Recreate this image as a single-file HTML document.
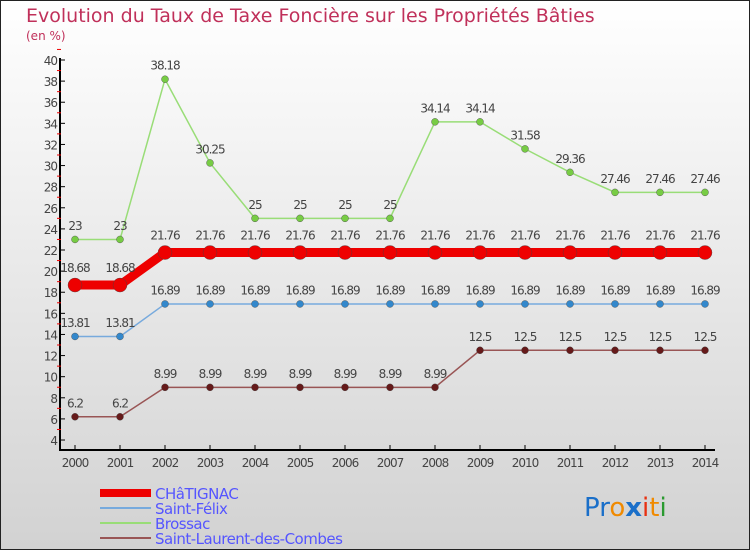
<!DOCTYPE html>
<html><head><meta charset="utf-8"><style>
body{margin:0}
svg{display:block;font-family:"DejaVu Sans","Liberation Sans",sans-serif}
</style></head><body>
<svg id="c" width="750" height="550" xmlns="http://www.w3.org/2000/svg">
<defs><linearGradient id="bg" x1="0" y1="0" x2="0" y2="1"><stop offset="0" stop-color="#ffffff"/><stop offset="1" stop-color="#d2d2d2"/></linearGradient></defs>
<rect x="0.5" y="0.5" width="749" height="549" fill="url(#bg)" stroke="#222"/>
<text x="26" y="22" font-size="19" fill="#c0305a">Evolution du Taux de Taxe Foncière sur les Propriétés Bâties</text>
<text x="26" y="40" font-size="12" fill="#c0305a">(en %)</text>
<g id="axes"></g><g id="series"></g><g id="legend"></g>
<text x="584" y="516" font-size="26" font-family="DejaVu Sans, sans-serif"><tspan fill="#1a6fc9">Pr</tspan><tspan fill="#f08a00">o</tspan><tspan fill="#1a6fc9" font-weight="bold">x</tspan><tspan fill="#e83010">i</tspan><tspan fill="#f08a00">t</tspan><tspan fill="#2a9a30">i</tspan></text>
</svg>
<script>
const years=["2000","2001","2002","2003","2004","2005","2006","2007","2008","2009","2010","2011","2012","2013","2014"];
const chatignac=[18.68,18.68,21.76,21.76,21.76,21.76,21.76,21.76,21.76,21.76,21.76,21.76,21.76,21.76,21.76];
const saintFelix=[13.81,13.81,16.89,16.89,16.89,16.89,16.89,16.89,16.89,16.89,16.89,16.89,16.89,16.89,16.89];
const brossac=[23,23,38.18,30.25,25,25,25,25,34.14,34.14,31.58,29.36,27.46,27.46,27.46];
const saintLaurent=[6.2,6.2,8.99,8.99,8.99,8.99,8.99,8.99,8.99,12.5,12.5,12.5,12.5,12.5,12.5];
const yTicks=[4,6,8,10,12,14,16,18,20,22,24,26,28,30,32,34,36,38,40];
const NS="http://www.w3.org/2000/svg";
const X=i=>75+i*45, Y=v=>60+(40-v)*10.556;
function mk(t,a,p){const e=document.createElementNS(NS,t);for(const k in a)e.setAttribute(k,a[k]);p.appendChild(e);return e;}
const ax=document.getElementById('axes');
const yl=mk('line',{x1:60,y1:58,x2:60,y2:451,stroke:'#000','stroke-width':2},ax);


const xl=mk('line',{x1:59,y1:450,x2:715,y2:450,stroke:'#000','stroke-width':2},ax);


yTicks.forEach(v=>{
 mk('line',{x1:60,y1:Y(v),x2:65,y2:Y(v),stroke:'#000'},ax);
 mk('line',{x1:57,y1:Y(v+1),x2:61,y2:Y(v+1),stroke:'#e00'},ax);
 const t=mk('text',{x:57,y:Y(v)+5,'font-size':12,'text-anchor':'end',fill:'#444','letter-spacing':'-1'},ax);
 t.textContent=v;
 
 
});
years.forEach((y,i)=>{
 mk('line',{x1:X(i),y1:445,x2:X(i),y2:450,stroke:'#000'},ax);
 const t=mk('text',{x:X(i),y:467,'font-size':12,'text-anchor':'middle',fill:'#444','letter-spacing':'-1'},ax);
 t.textContent=y;
 
 
});
const sg=document.getElementById('series');
const S=[
 {n:'brossac',d:brossac,c:'#99dd77',m:'#77cc44',w:1.5,r:3.5},
 {n:'saint-felix',d:saintFelix,c:'#77aadd',m:'#3388cc',w:1.5,r:3.5},
 {n:'saint-laurent',d:saintLaurent,c:'#995555',m:'#661a1a',w:1.5,r:3.5},
 {n:'chatignac',d:chatignac,c:'#ee0000',m:'#ee0000',w:9,r:7}
];
S.forEach(s=>{
 const g=mk('g',{},sg);
 
 
 const pl=mk('polyline',{points:s.d.map((v,i)=>X(i)+','+Y(v)).join(' '),fill:'none',stroke:s.c,'stroke-width':s.w},g);
 
 
 s.d.forEach((v,i)=>{
  const c=mk('circle',{cx:X(i),cy:Y(v),r:s.r,fill:s.m,stroke:'#444','stroke-width':0.4},g);
  
  
  const t=mk('text',{x:X(i),y:Y(v)-(s.r+6),'font-size':12,'text-anchor':'middle',fill:'#444','letter-spacing':'-1'},g);
  t.textContent=v;
  
  
 });
});
const lg=document.getElementById('legend');
[['CHâTIGNAC','#ee0000',8],['Saint-Félix','#77aadd',2],['Brossac','#99dd77',2],['Saint-Laurent-des-Combes','#995555',2]].forEach((e,i)=>{
 const yy=493+i*15;
 const g=mk('g',{},lg);
 
 
 mk('line',{x1:100,y1:yy,x2:151,y2:yy,stroke:e[1],'stroke-width':e[2]},g);
 const t=mk('text',{x:155,y:yy+6,'font-size':15,fill:'#5555ff','letter-spacing':'-0.5'},g);
 t.textContent=e[0];
});
</script>
</body></html>
